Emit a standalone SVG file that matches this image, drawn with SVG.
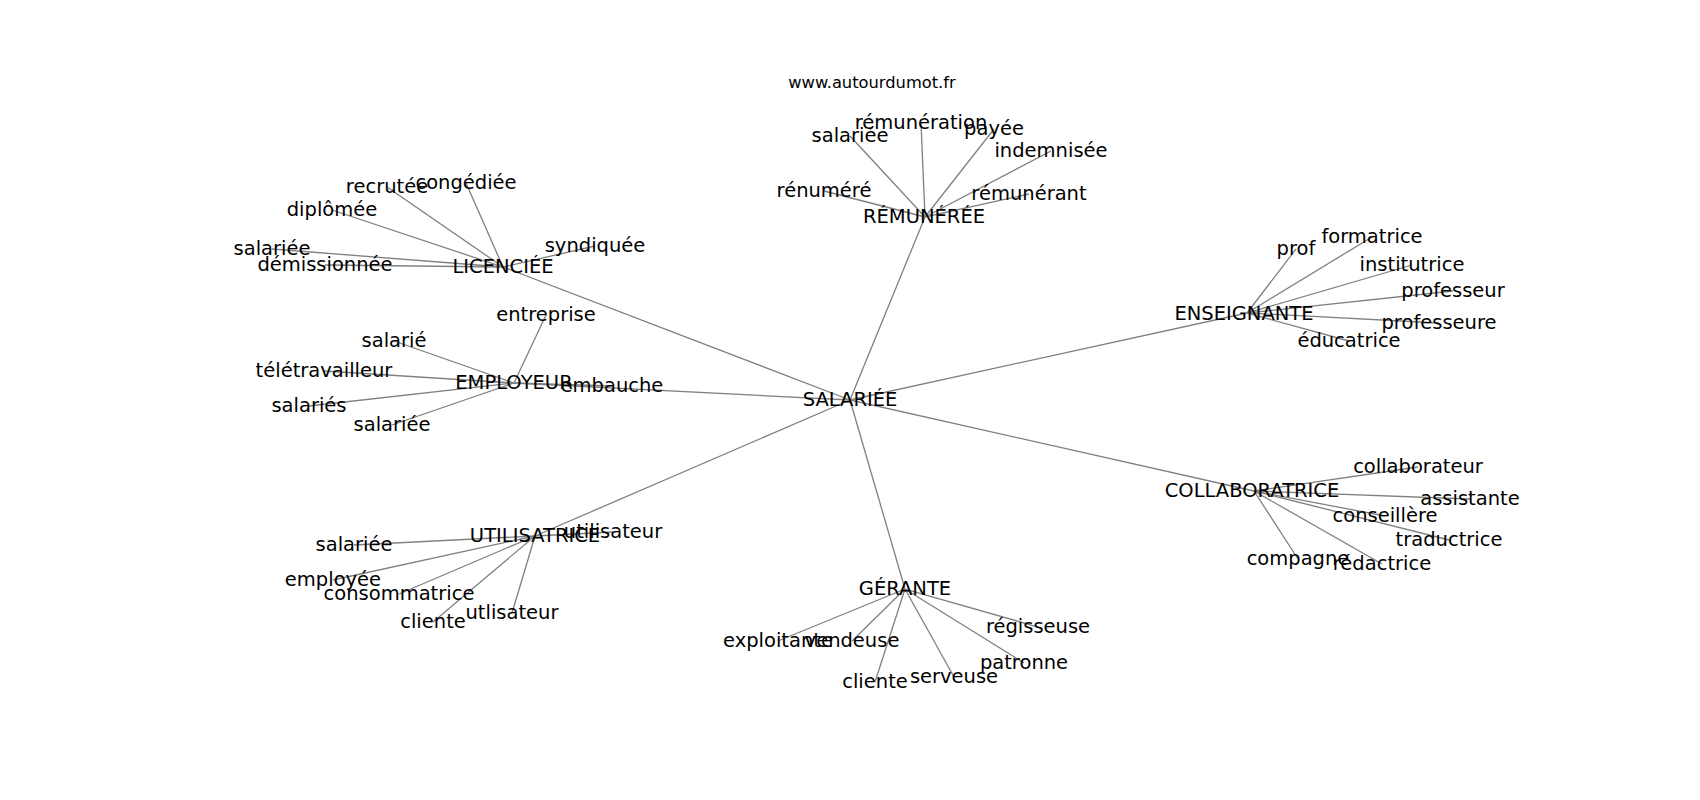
<svg xmlns="http://www.w3.org/2000/svg" width="1700" height="800" viewBox="0 0 1700 800">
<style>
.e{stroke:#808080;stroke-width:1.3;fill:none}
text{font-family:"DejaVu Sans",sans-serif;font-size:19.5px;fill:#000;text-anchor:middle}
.t{font-size:16.3px}
</style>
<rect width="1700" height="800" fill="#fff"/>
<g id="edges" class="e">
<line x1="850" y1="400" x2="503" y2="267"/>
<line x1="850" y1="400" x2="925" y2="217"/>
<line x1="850" y1="400" x2="1247" y2="313"/>
<line x1="850" y1="400" x2="1254" y2="491"/>
<line x1="850" y1="400" x2="905" y2="589"/>
<line x1="850" y1="400" x2="535" y2="536"/>
<line x1="850" y1="400" x2="514" y2="383"/>
<line x1="503" y1="267" x2="387" y2="187"/>
<line x1="503" y1="267" x2="466" y2="183"/>
<line x1="503" y1="267" x2="332" y2="210"/>
<line x1="503" y1="267" x2="272" y2="249"/>
<line x1="503" y1="267" x2="325" y2="265"/>
<line x1="503" y1="267" x2="595" y2="246"/>
<line x1="514" y1="383" x2="546" y2="315"/>
<line x1="514" y1="383" x2="394" y2="341"/>
<line x1="514" y1="383" x2="324" y2="371"/>
<line x1="514" y1="383" x2="309" y2="406"/>
<line x1="514" y1="383" x2="392" y2="425"/>
<line x1="514" y1="383" x2="612" y2="386"/>
<line x1="925" y1="217" x2="921" y2="123"/>
<line x1="925" y1="217" x2="850" y2="136"/>
<line x1="925" y1="217" x2="994" y2="129"/>
<line x1="925" y1="217" x2="1051" y2="151"/>
<line x1="925" y1="217" x2="824" y2="191"/>
<line x1="925" y1="217" x2="1029" y2="194"/>
<line x1="1247" y1="313" x2="1296" y2="249"/>
<line x1="1247" y1="313" x2="1372" y2="237"/>
<line x1="1247" y1="313" x2="1412" y2="265"/>
<line x1="1247" y1="313" x2="1453" y2="291"/>
<line x1="1247" y1="313" x2="1439" y2="323"/>
<line x1="1247" y1="313" x2="1349" y2="341"/>
<line x1="1254" y1="491" x2="1418" y2="467"/>
<line x1="1254" y1="491" x2="1470" y2="499"/>
<line x1="1254" y1="491" x2="1385" y2="516"/>
<line x1="1254" y1="491" x2="1449" y2="540"/>
<line x1="1254" y1="491" x2="1382" y2="564"/>
<line x1="1254" y1="491" x2="1298" y2="559"/>
<line x1="535" y1="536" x2="613" y2="532"/>
<line x1="535" y1="536" x2="354" y2="545"/>
<line x1="535" y1="536" x2="333" y2="580"/>
<line x1="535" y1="536" x2="399" y2="594"/>
<line x1="535" y1="536" x2="433" y2="622"/>
<line x1="535" y1="536" x2="512" y2="613"/>
<line x1="905" y1="589" x2="778" y2="641"/>
<line x1="905" y1="589" x2="852" y2="641"/>
<line x1="905" y1="589" x2="875" y2="682"/>
<line x1="905" y1="589" x2="954" y2="677"/>
<line x1="905" y1="589" x2="1038" y2="627"/>
<line x1="905" y1="589" x2="1024" y2="663"/>
</g>
<text class="t" x="872" y="88">www.autourdumot.fr</text>
<g id="n_salariee"><text x="850" y="406">SALARIÉE</text></g>
<g id="n_licenciee"><text x="503" y="273">LICENCIÉE</text></g>
<g id="n_employeur"><text x="514" y="389">EMPLOYEUR</text></g>
<g id="n_remuneree"><text x="924" y="223">RÉMUNÉRÉE</text></g>
<g id="n_enseignante"><text x="1244" y="320">ENSEIGNANTE</text></g>
<g id="n_collaboratrice"><text x="1252" y="497">COLLABORATRICE</text></g>
<g id="n_utilisatrice"><text x="535" y="542">UTILISATRICE</text></g>
<g id="n_gerante"><text x="905" y="595">GÉRANTE</text></g>
<g id="n_recrutee"><text x="387" y="193">recrutée</text></g>
<g id="n_congediee"><text x="466" y="189">congédiée</text></g>
<g id="n_diplomee"><text x="332" y="216">diplômée</text></g>
<g id="n_salariee_l"><text x="272" y="255">salariée</text></g>
<g id="n_demissionnee"><text x="325" y="271">démissionnée</text></g>
<g id="n_syndiquee"><text x="595" y="252">syndiquée</text></g>
<g id="n_entreprise"><text x="546" y="321">entreprise</text></g>
<g id="n_salarie"><text x="394" y="347">salarié</text></g>
<g id="n_teletravailleur"><text x="324" y="377">télétravailleur</text></g>
<g id="n_salaries"><text x="309" y="412">salariés</text></g>
<g id="n_salariee_e"><text x="392" y="431">salariée</text></g>
<g id="n_embauche"><text x="612" y="392">embauche</text></g>
<g id="n_remuneration"><text x="921" y="129">rémunération</text></g>
<g id="n_salariee_r"><text x="850" y="142">salariée</text></g>
<g id="n_payee"><text x="994" y="135">payée</text></g>
<g id="n_indemnisee"><text x="1051" y="157">indemnisée</text></g>
<g id="n_renumere"><text x="824" y="197">rénuméré</text></g>
<g id="n_remunerant"><text x="1029" y="200">rémunérant</text></g>
<g id="n_prof"><text x="1296" y="255">prof</text></g>
<g id="n_formatrice"><text x="1372" y="243">formatrice</text></g>
<g id="n_institutrice"><text x="1412" y="271">institutrice</text></g>
<g id="n_professeur"><text x="1453" y="297">professeur</text></g>
<g id="n_professeure"><text x="1439" y="329">professeure</text></g>
<g id="n_educatrice"><text x="1349" y="347">éducatrice</text></g>
<g id="n_collaborateur"><text x="1418" y="473">collaborateur</text></g>
<g id="n_assistante"><text x="1470" y="505">assistante</text></g>
<g id="n_conseillere"><text x="1385" y="522">conseillère</text></g>
<g id="n_traductrice"><text x="1449" y="546">traductrice</text></g>
<g id="n_redactrice"><text x="1382" y="570">rédactrice</text></g>
<g id="n_compagne"><text x="1298" y="565">compagne</text></g>
<g id="n_utilisateur"><text x="613" y="538">utilisateur</text></g>
<g id="n_salariee_u"><text x="354" y="551">salariée</text></g>
<g id="n_employee"><text x="333" y="586">employée</text></g>
<g id="n_consommatrice"><text x="399" y="600">consommatrice</text></g>
<g id="n_cliente_u"><text x="433" y="628">cliente</text></g>
<g id="n_utlisateur"><text x="512" y="619">utlisateur</text></g>
<g id="n_exploitante"><text x="778" y="647">exploitante</text></g>
<g id="n_vendeuse"><text x="852" y="647">vendeuse</text></g>
<g id="n_cliente_g"><text x="875" y="688">cliente</text></g>
<g id="n_serveuse"><text x="954" y="683">serveuse</text></g>
<g id="n_regisseuse"><text x="1038" y="633">régisseuse</text></g>
<g id="n_patronne"><text x="1024" y="669">patronne</text></g>
</svg>
